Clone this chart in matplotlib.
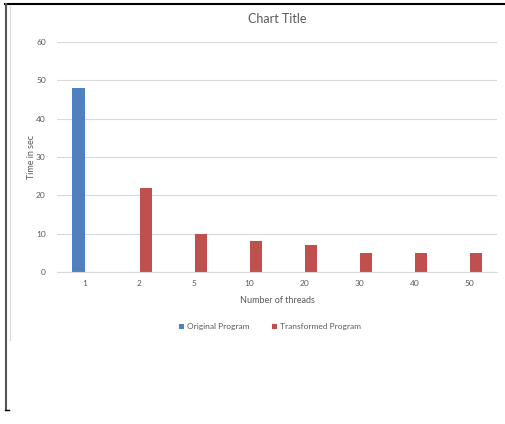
import matplotlib.pyplot as plt
from matplotlib.lines import Line2D
import numpy as np

plt.rcParams["font.family"] = ["Lato", "DejaVu Sans"]

# data
threads = ["1", "2", "5", "10", "20", "30", "40", "50"]
original = [48, 0, 0, 0, 0, 0, 0, 0]
transformed = [0, 22, 10, 8, 7, 5, 5, 5]

blue = "#4F81BD"
red = "#C0504D"
text_grey = "#595959"

fig = plt.figure(figsize=(5.05, 4.24), dpi=100)
ax = fig.add_axes([57 / 505, 1 - 272 / 424, 440 / 505, 230 / 424])

x = np.arange(len(threads))
w = 0.23
ax.bar(x - w / 2, original, width=w, color=blue, label="Original Program")
ax.bar(x + w / 2, transformed, width=w, color=red, label="Transformed Program")

ax.set_xlim(-0.5, len(threads) - 0.5)
ax.set_ylim(0, 60)
ax.set_yticks(range(0, 61, 10))
ax.set_xticks(x)
ax.set_xticklabels(threads)
ax.tick_params(axis="x", length=0, labelsize=6, colors=text_grey, pad=6)
ax.tick_params(axis="y", length=0, labelsize=6, colors=text_grey, pad=8)
ax.grid(axis="y", color="#D9D9D9", linewidth=0.8)
ax.set_axisbelow(True)
for s in ["top", "right", "left"]:
    ax.spines[s].set_visible(False)
ax.spines["bottom"].set_color("#D9D9D9")

ax.set_title("Chart Title", fontsize=9, color=text_grey, pad=14)
ax.set_xlabel("Number of threads", fontsize=6.5, color=text_grey, labelpad=6)
ax.set_ylabel("Time in sec", fontsize=6.5, color=text_grey)
ax.yaxis.set_label_coords(-21 / 440, 0.5)

fig.legend(loc="center", bbox_to_anchor=(270 / 505, 1 - 327 / 424), ncol=2,
           frameon=False, fontsize=6, labelcolor=text_grey,
           handlelength=0.6, handleheight=0.6, handletextpad=0.3, columnspacing=2.8)

# outer frame of the screenshot
fig.add_artist(Line2D([5 / 505, 1], [1 - 4 / 424] * 2, color="black", linewidth=1.5))
fig.add_artist(Line2D([5.5 / 505] * 2, [1 - 4 / 424, 1 - 410 / 424], color="#555555", linewidth=1.5))
fig.add_artist(Line2D([5 / 505, 9 / 505], [1 - 410 / 424] * 2, color="black", linewidth=1))
fig.add_artist(Line2D([9.5 / 505] * 2, [1 - 6 / 424, 1 - 340 / 424], color="#D9D9D9", linewidth=0.8))

fig.savefig("out.png", dpi=100)
